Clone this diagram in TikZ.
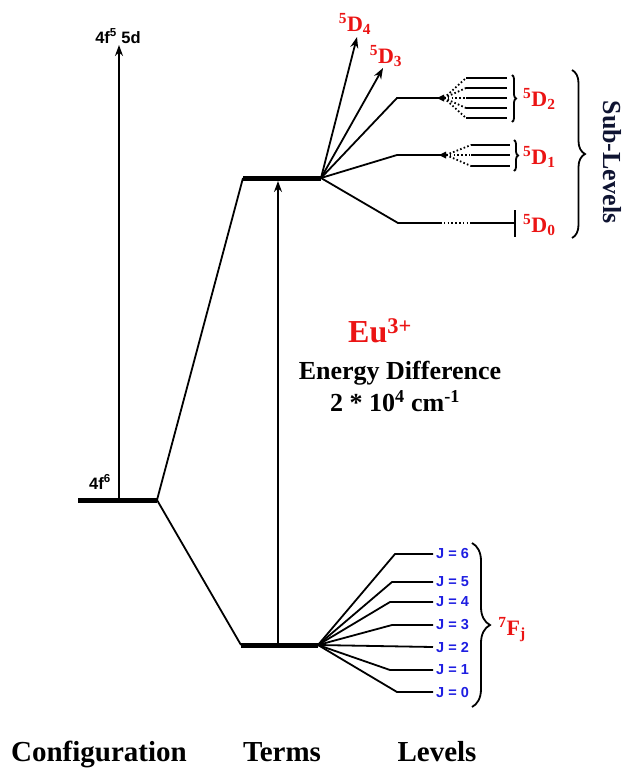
\documentclass[tikz,border=0pt]{standalone}
\usepackage{fontspec}
\setmainfont{Liberation Serif}
\newfontfamily\sansb{Liberation Sans}
\usetikzlibrary{arrows.meta,decorations.pathreplacing}
\definecolor{lblred}{RGB}{235,20,20}
\definecolor{lblblue}{RGB}{30,30,225}
\definecolor{navyc}{RGB}{15,20,50}
\begin{document}
\begin{tikzpicture}[x=1pt,y=-1pt,
  thinl/.style={line width=1.8pt},
  levl/.style={line width=5pt},
  arr/.style={line width=1.8pt,-{Stealth[length=11pt,width=8pt]}},
  dotl/.style={line width=1.8pt,dash pattern=on 1.6pt off 2.2pt},
  jlab/.style={font=\sansb\bfseries\fontsize{14.5}{15}\selectfont, text=lblblue, anchor=west, inner sep=0pt},
  dlab/.style={font=\bfseries\fontsize{22}{23}\selectfont,text=lblred,inner sep=0pt},
  slab/.style={font=\sansb\bfseries\fontsize{16.5}{17}\selectfont,inner sep=0pt},
  blab/.style={font=\bfseries\fontsize{29}{30}\selectfont,inner sep=0pt,anchor=base},
  brc/.style={line width=1.8pt,decorate,decoration={brace,amplitude=#1}},
  tri/.style={fill=black}]
\useasboundingbox (0,0) rectangle (622,769);
% configuration
\coordinate (c1) at (78,500);
\coordinate (c2) at (157,500);
\coordinate (cx) at (119,500);
\coordinate (ctop) at (119,45);
\draw[levl] (c1) -- (c2);
\draw[arr] (cx) -- (ctop);
\node[slab] (c5d) at (118,36) {4f\textsuperscript{5} 5d};
\node[slab] (c4f6) at (100,482) {4f\textsuperscript{6}};
% terms
\coordinate (u1) at (243,178);
\coordinate (u2) at (321,178);
\coordinate (l1) at (241,645);
\coordinate (l2) at (318,645);
\draw[thinl] (c2) -- (u1);
\draw[thinl] (c2) -- (l1);
\draw[levl] (u1) -- (u2);
\draw[levl] (l1) -- (l2);
\coordinate (lx) at (278,645);
\coordinate (ux) at (278,181);
\draw[arr] (lx) -- (ux);
% upper fan
\coordinate (d4t) at (357,37);
\coordinate (d3t) at (383,68);
\draw[arr] (u2) -- (d4t);
\draw[arr] (u2) -- (d3t);
\node[dlab] (d4) at (355,24) {\textsuperscript{5}D\textsubscript{4}};
\node[dlab] (d3) at (386,56) {\textsuperscript{5}D\textsubscript{3}};
% 5D2
\coordinate (b2) at (397,98);
\coordinate (f2) at (440,98);
\draw[thinl] (u2) -- (b2) -- (f2);
\fill[tri] (437,98) -- (444,94.5) -- (444,101.5) -- cycle;
\foreach \yy in {78,88,98,108,118} {
  \draw[dotl] (444,98) -- (466,\yy);
  \draw[thinl] (466,\yy) -- (507,\yy);
}
\draw[brc=4pt] (512,75) -- (512,122);
\node[dlab,anchor=west] (d2) at (523,99) {\textsuperscript{5}D\textsubscript{2}};
% 5D1
\coordinate (b1) at (397,155);
\coordinate (f1) at (442,155);
\draw[thinl] (u2) -- (b1) -- (f1);
\fill[tri] (439,155) -- (446,151.5) -- (446,158.5) -- cycle;
\foreach \yy in {145,155,166} {
  \draw[dotl] (446,155) -- (471,\yy);
  \draw[thinl] (471,\yy) -- (510,\yy);
}
\draw[brc=4pt] (514,140) -- (514,171);
\node[dlab,anchor=west] (d1) at (523,157) {\textsuperscript{5}D\textsubscript{1}};
% 5D0
\coordinate (b0) at (398,223);
\coordinate (f0) at (440,223);
\coordinate (g0) at (470,223);
\coordinate (h0) at (515,223);
\draw[thinl] (u2) -- (b0) -- (f0);
\draw[dotl] (f0) -- (g0);
\draw[thinl] (g0) -- (h0);
\draw[thinl] (515,210) -- (515,237);
\node[dlab,anchor=west] (d0) at (523,225) {\textsuperscript{5}D\textsubscript{0}};
% sub-levels
\draw[brc=13pt] (572,70) -- (572,238);
\node[font=\bfseries\fontsize{26}{27}\selectfont,text=navyc,rotate=-90,inner sep=0pt] (sub) at (612,162) {Sub-Levels};
% lower fan
\foreach \yy/\bx/\jj in {554/395/6,582/392/5,602/390/4,625/392/3,670/390/1,692/397/0} {
  \draw[thinl] (l2) -- (\bx,\yy) -- (433,\yy);
  \node[jlab] (j\jj) at (436,\yy) {J = \jj};
}
\coordinate (e2) at (433,647);
\draw[thinl] (l2) -- (e2);
\node[jlab] (j2) at (436,647) {J = 2};
\draw[brc=18pt] (472,543) -- (472,707);
\node[dlab] (fj) at (512,630) {\textsuperscript{7}F\textsubscript{j}};
% center labels
\node[font=\bfseries\fontsize{32}{34}\selectfont,text=lblred,inner sep=0pt] (eu) at (380,331) {Eu\textsuperscript{3+}};
\node[font=\bfseries\fontsize{26}{28}\selectfont,inner sep=0pt] (ed) at (400,373) {Energy Difference};
\node[font=\bfseries\fontsize{26}{28}\selectfont,inner sep=0pt] (ev) at (395,401) {2 * 10\textsuperscript{4} cm\textsuperscript{-1}};
% bottom
\node[blab] (cfg) at (99,761) {Configuration};
\node[blab] (trm) at (282,761) {Terms};
\node[blab] (lvl) at (437,761) {Levels};
\end{tikzpicture}
\end{document}
